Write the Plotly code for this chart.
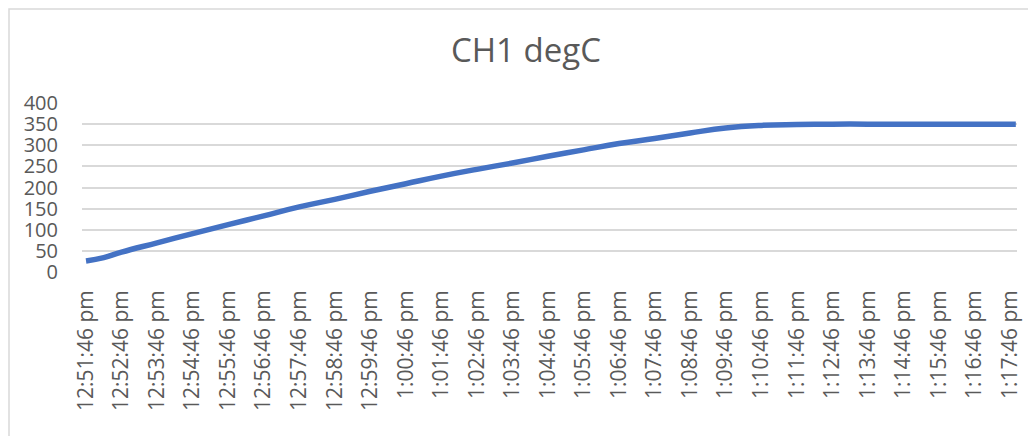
import plotly.graph_objects as go

# ---- data ----
sample_times = [
    "12:51:46 pm", "12:52:16 pm", "12:52:46 pm", "12:53:46 pm", "12:54:46 pm",
    "12:55:46 pm", "12:56:46 pm", "12:57:46 pm", "12:58:46 pm", "12:59:46 pm",
    "1:00:46 pm", "1:01:46 pm", "1:02:46 pm", "1:03:46 pm", "1:04:46 pm",
    "1:05:46 pm", "1:06:46 pm", "1:07:46 pm", "1:08:46 pm", "1:09:46 pm",
    "1:10:46 pm", "1:11:46 pm", "1:12:46 pm", "1:13:46 pm", "1:14:46 pm",
    "1:15:46 pm", "1:16:46 pm", "1:17:46 pm", "1:17:56 pm",
]
ch1_degc = [
    26, 34, 47, 69, 91,
    112, 133, 154, 172, 191,
    209, 227, 243, 258, 274,
    289, 304, 316, 329, 341,
    347, 349, 350, 350, 350,
    350, 350, 350, 350,
]
tick_labels = [
    "12:51:46 pm", "12:52:46 pm", "12:53:46 pm", "12:54:46 pm", "12:55:46 pm",
    "12:56:46 pm", "12:57:46 pm", "12:58:46 pm", "12:59:46 pm", "1:00:46 pm",
    "1:01:46 pm", "1:02:46 pm", "1:03:46 pm", "1:04:46 pm", "1:05:46 pm",
    "1:06:46 pm", "1:07:46 pm", "1:08:46 pm", "1:09:46 pm", "1:10:46 pm",
    "1:11:46 pm", "1:12:46 pm", "1:13:46 pm", "1:14:46 pm", "1:15:46 pm",
    "1:16:46 pm", "1:17:46 pm",
]
y_ticks = [0, 50, 100, 150, 200, 250, 300, 350, 400]


def to_seconds(label):
    t, ampm = label.split()
    h, m, s = (int(v) for v in t.split(":"))
    h = h % 12 + (12 if ampm == "pm" else 0)
    return h * 3600 + m * 60 + s


t0 = to_seconds(sample_times[0])
x_vals = [(to_seconds(t) - t0) / 60 for t in sample_times]
tick_vals = [(to_seconds(t) - t0) / 60 for t in tick_labels]

# page has an 8px body margin, so the figure is offset by 8px
OFF = 8
W, H = 1036 - OFF, 436 - OFF
L, R, T, B = 82 - OFF, 19, 103 - OFF, 164

fig = go.Figure()
fig.add_trace(go.Scatter(
    x=x_vals, y=ch1_degc, mode="lines",
    line=dict(color="#4472C4", width=5.5, shape="spline", smoothing=1.3),
    hoverinfo="skip", showlegend=False,
))

txt = "#595959"
fig.update_layout(
    width=W, height=H,
    margin=dict(l=L, r=R, t=T, b=B, pad=0, autoexpand=False),
    paper_bgcolor="white", plot_bgcolor="white",
    font=dict(family="Open Sans", color=txt),
    title=dict(text="CH1 degC", x=(526 - OFF) / W, xanchor="center", xref="container",
               y=1 - (50 - OFF) / H, yanchor="middle", yref="container",
               font=dict(family="Open Sans", size=33, color=txt)),
    xaxis=dict(range=[-0.113, 26.2], tickmode="array", tickvals=tick_vals,
               ticktext=tick_labels, tickangle=-90, showgrid=False,
               zeroline=False, showline=False, ticks="", automargin=False,
               ticklabelstandoff=13,
               tickfont=dict(family="Open Sans", size=21, color=txt)),
    yaxis=dict(range=[0, 400], tickmode="array", tickvals=y_ticks,
               showgrid=True, gridcolor="#D9D9D9", gridwidth=1.5,
               zeroline=False, showline=False, ticks="", automargin=False,
               ticklabelstandoff=23,
               tickfont=dict(family="Open Sans", size=20, color=txt)),
    shapes=[dict(type="rect", xref="paper", yref="paper",
                 x0=(1 - L) / (W - L - R), x1=1.2,
                 y0=-1.5, y1=(H - B - 1) / (H - T - B),
                 line=dict(color="#D9D9D9", width=1.5), layer="below")],
)

fig.write_html("out.html")
